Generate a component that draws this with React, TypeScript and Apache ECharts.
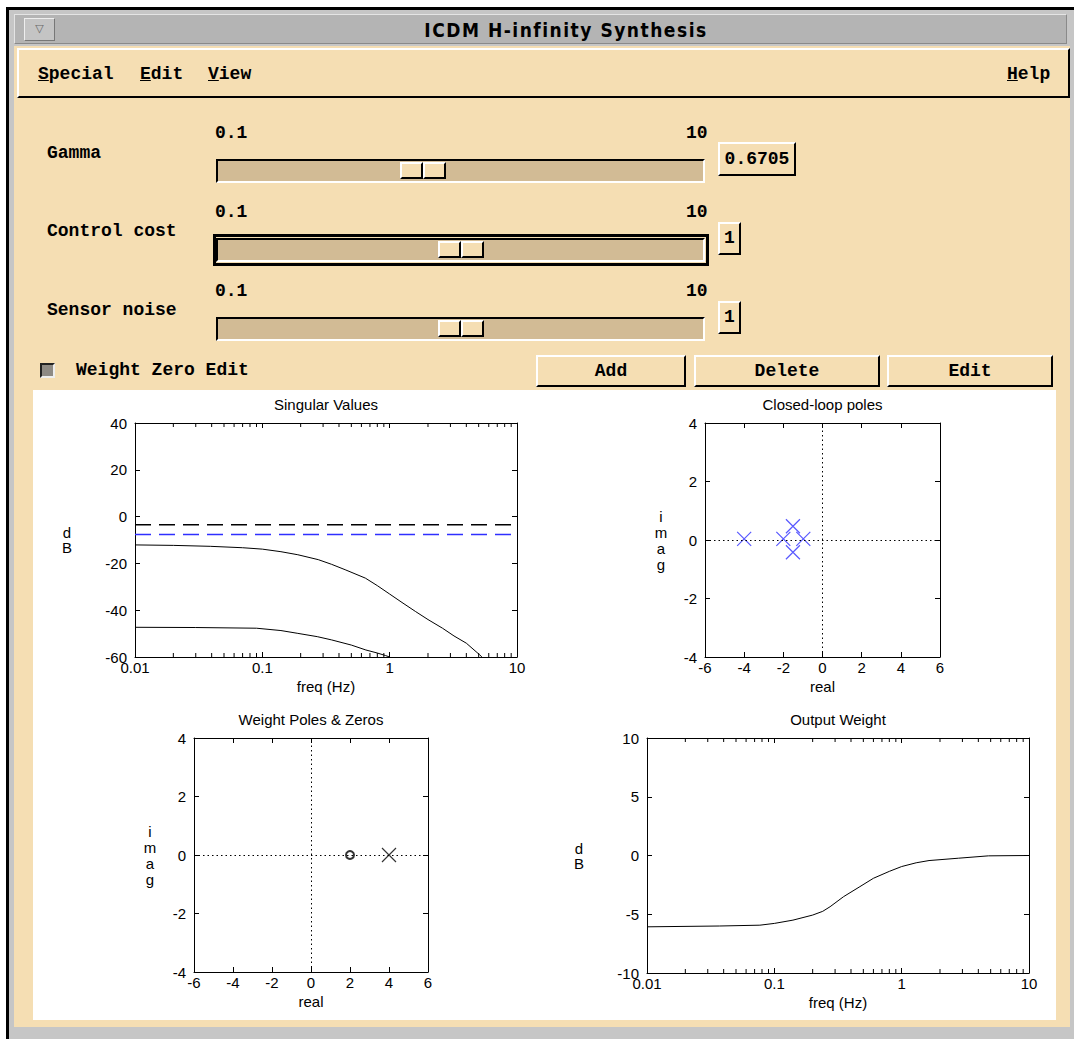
import React, { useEffect, useRef } from "react";
import * as echarts from "echarts";

// ---------- data ----------
const svFreq = [0.01, 0.02, 0.039, 0.07, 0.1, 0.14, 0.19, 0.275, 0.35, 0.447, 0.645, 0.8, 1.0, 1.25, 1.6, 2.0, 2.6, 3.2, 4.0, 5.1, 5.3];
const svUpper = [-12.1, -12.3, -12.7, -13.3, -13.9, -15.0, -16.3, -18.4, -20.4, -22.7, -26.3, -29.5, -33.1, -36.7, -40.6, -44.0, -47.7, -51.0, -54.1, -59.1, -60];
const svLowerFreq = [0.01, 0.03, 0.09, 0.14, 0.19, 0.27, 0.35, 0.5, 0.65, 0.8, 0.93, 1.0];
const svLower = [-47.3, -47.4, -47.7, -48.7, -49.9, -51.3, -52.7, -54.9, -57.0, -58.3, -59.4, -60];
const gammaDb = -3.5;
const blueDb = -7.6;

const polesRe = [-4.0, -2.0, -1.51, -1.51, -0.98];
const polesIm = [0.04, 0.04, 0.47, -0.42, 0.04];

const wZerosRe = [2];
const wZerosIm = [0];
const wPolesRe = [4];
const wPolesIm = [0];

const owFreq = [0.01, 0.037, 0.077, 0.1, 0.14, 0.2, 0.24, 0.274, 0.35, 0.47, 0.6, 0.8, 1.0, 1.3, 1.64, 2.8, 4.8, 10];
const owDb = [-6.07, -6.0, -5.93, -5.78, -5.5, -5.07, -4.75, -4.36, -3.5, -2.65, -1.94, -1.35, -0.94, -0.62, -0.43, -0.23, -0.03, 0];

const logMinor = [0.02, 0.03, 0.04, 0.05, 0.06, 0.07, 0.08, 0.09, 0.2, 0.3, 0.4, 0.5, 0.6, 0.7, 0.8, 0.9, 2, 3, 4, 5, 6, 7, 8, 9];

const sliderLabels = ["Gamma", "Control cost", "Sensor noise"];
const sliderValues = ["0.6705", "1", "1"];
const sliderMin = "0.1";
const sliderMax = "10";
const menuItems = ["Special", "Edit", "View"];
const buttonLabels = ["Add", "Delete", "Edit"];

// ---------- styles ----------
const WHEAT = "#f5deb3";
const TROUGH = "#d2bb95";
const BLUE = "#2f2fff";
const MONO = "'Liberation Mono', 'DejaVu Sans Mono', monospace";
const SANS = "'Liberation Sans', Arial, sans-serif";
const X_PATH = "path://M0 0L10 10M10 0L0 10";

const abs = (left: number, top: number, width: number, height: number, extra: any = {}) => ({
  position: "absolute" as const,
  left,
  top,
  width,
  height,
  boxSizing: "border-box" as const,
  ...extra,
});

const raised = {
  borderTop: "2px solid #fff",
  borderLeft: "2px solid #fff",
  borderBottom: "2px solid #000",
  borderRight: "2px solid #000",
  background: WHEAT,
};

const monoText = {
  fontFamily: MONO,
  fontWeight: "bold" as const,
  fontSize: 18,
  color: "#000",
  whiteSpace: "pre" as const,
};

function Label({ x, cy, text, extra = {} }: any) {
  return <div style={{ ...abs(x, cy - 11, 300, 22), ...monoText, lineHeight: "22px", ...extra }}>{text}</div>;
}

function Slider({ top, thumb, focused }: any) {
  return (
    <>
      {focused && <div style={abs(213, top - 4, 496, 32, { border: "3px solid #000" })} />}
      <div
        style={abs(216, top, 489, 24, {
          background: TROUGH,
          borderTop: "2px solid #000",
          borderLeft: "2px solid #000",
          borderBottom: "2px solid #fff",
          borderRight: "2px solid #fff",
        })}
      />
      <div style={abs(thumb, top + 3, 23, 17, raised)} />
      <div style={abs(thumb + 23, top + 3, 23, 17, raised)} />
    </>
  );
}

function axisSet(gi: number, xLog: boolean, xMin: number, xMax: number, xInt: number, yMin: number, yMax: number, yInt: number, title: string, xName: string, yName: string, yLH: number, yGap: number) {
  const line = { show: true, onZero: false, lineStyle: { color: "#000", width: 1 } };
  const tick = { show: true, inside: true, length: 5, lineStyle: { color: "#000", width: 1 } };
  const lbl = { color: "#000", fontSize: 15, fontFamily: SANS };
  const fmt = (v: number) => String(parseFloat(Number(v).toPrecision(3)));
  const xCommon: any = xLog ? { type: "log", logBase: 10, min: xMin, max: xMax } : { type: "value", min: xMin, max: xMax, interval: xInt };
  const yCommon: any = { type: "value", min: yMin, max: yMax, interval: yInt };
  const xs = [
    {
      ...xCommon,
      gridIndex: gi,
      position: "bottom",
      axisLine: line,
      axisTick: tick,
      splitLine: { show: false },
      axisLabel: { ...lbl, margin: 3, formatter: fmt },
      name: xName,
      nameLocation: "middle",
      nameGap: 22,
      nameTextStyle: { ...lbl },
    },
    {
      ...xCommon,
      gridIndex: gi,
      position: "top",
      axisLine: line,
      axisTick: tick,
      splitLine: { show: false },
      axisLabel: { show: false },
      name: title,
      nameLocation: "middle",
      nameGap: 11,
      nameTextStyle: { ...lbl },
    },
  ];
  const ys = [
    {
      ...yCommon,
      gridIndex: gi,
      position: "left",
      axisLine: line,
      axisTick: tick,
      splitLine: { show: false },
      axisLabel: { ...lbl, margin: 8 },
      name: yName,
      nameLocation: "middle",
      nameRotate: 0,
      nameGap: yGap,
      nameTextStyle: { ...lbl, lineHeight: yLH, align: "center" },
    },
    {
      ...yCommon,
      gridIndex: gi,
      position: "right",
      axisLine: line,
      axisTick: tick,
      splitLine: { show: false },
      axisLabel: { show: false },
    },
  ];
  return { xs, ys };
}

function minorTicks(axisIdx: number, yMin: number, yMax: number) {
  return {
    type: "custom",
    xAxisIndex: axisIdx,
    yAxisIndex: axisIdx,
    silent: true,
    data: logMinor.map((f) => [f, yMin, yMax]),
    renderItem: (_p: any, api: any) => {
      const f = api.value(0);
      const b = api.coord([f, api.value(1)]);
      const t = api.coord([f, api.value(2)]);
      return {
        type: "group",
        children: [
          { type: "line", shape: { x1: b[0], y1: b[1], x2: b[0], y2: b[1] - 4 }, style: { stroke: "#000", lineWidth: 1 } },
          { type: "line", shape: { x1: t[0], y1: t[1], x2: t[0], y2: t[1] + 4 }, style: { stroke: "#000", lineWidth: 1 } },
        ],
      };
    },
  };
}

const zeroLines = {
  silent: true,
  symbol: ["none", "none"],
  label: { show: false },
  lineStyle: { color: "#000", width: 1, type: [1.5, 3] },
  data: [{ xAxis: 0 }, { yAxis: 0 }],
};

function buildOption() {
  const a0 = axisSet(0, true, 0.01, 10, 0, -60, 40, 20, "Singular Values", "freq (Hz)", "d\nB", 15, 68);
  const a1 = axisSet(1, false, -6, 6, 2, -4, 4, 2, "Closed-loop poles", "real", "i\nm\na\ng", 16, 44);
  const a2 = axisSet(2, false, -6, 6, 2, -4, 4, 2, "Weight Poles & Zeros", "real", "i\nm\na\ng", 16, 44);
  const a3 = axisSet(3, true, 0.01, 10, 0, -10, 10, 5, "Output Weight", "freq (Hz)", "d\nB", 15, 68);
  return {
    animation: false,
    backgroundColor: "#fff",
    textStyle: { fontFamily: SANS },
    grid: [
      { left: 102, top: 33, width: 382, height: 234 },
      { left: 672, top: 33, width: 235, height: 234 },
      { left: 161, top: 348, width: 234, height: 234 },
      { left: 614, top: 348, width: 382, height: 235 },
    ],
    xAxis: [...a0.xs, ...a1.xs, ...a2.xs, ...a3.xs],
    yAxis: [...a0.ys, ...a1.ys, ...a2.ys, ...a3.ys],
    series: [
      {
        type: "line",
        xAxisIndex: 0,
        yAxisIndex: 0,
        data: svFreq.map((f, i) => [f, svUpper[i]]),
        symbol: "none",
        silent: true,
        lineStyle: { color: "#000", width: 1 },
      },
      {
        type: "line",
        xAxisIndex: 0,
        yAxisIndex: 0,
        data: svLowerFreq.map((f, i) => [f, svLower[i]]),
        symbol: "none",
        silent: true,
        lineStyle: { color: "#000", width: 1 },
      },
      {
        type: "line",
        xAxisIndex: 0,
        yAxisIndex: 0,
        data: [[0.01, gammaDb], [10, gammaDb]],
        symbol: "none",
        silent: true,
        lineStyle: { color: "#000", width: 1.5, type: [16, 8] },
      },
      {
        type: "line",
        xAxisIndex: 0,
        yAxisIndex: 0,
        data: [[0.01, blueDb], [10, blueDb]],
        symbol: "none",
        silent: true,
        lineStyle: { color: BLUE, width: 1.5, type: [16, 8] },
      },
      minorTicks(0, -60, 40),
      {
        type: "scatter",
        xAxisIndex: 2,
        yAxisIndex: 2,
        data: polesRe.map((r, i) => [r, polesIm[i]]),
        symbol: X_PATH,
        symbolSize: 14,
        silent: true,
        itemStyle: { color: "none", borderColor: BLUE, borderWidth: 1.2 },
        markLine: zeroLines,
      },
      {
        type: "scatter",
        xAxisIndex: 4,
        yAxisIndex: 4,
        data: wZerosRe.map((r, i) => [r, wZerosIm[i]]),
        symbol: "emptyCircle",
        symbolSize: 8,
        silent: true,
        itemStyle: { color: "#000", borderColor: "#000", borderWidth: 1.2 },
        markLine: zeroLines,
      },
      {
        type: "scatter",
        xAxisIndex: 4,
        yAxisIndex: 4,
        data: wPolesRe.map((r, i) => [r, wPolesIm[i]]),
        symbol: X_PATH,
        symbolSize: 14,
        silent: true,
        itemStyle: { color: "none", borderColor: "#000", borderWidth: 1.2 },
      },
      {
        type: "line",
        xAxisIndex: 6,
        yAxisIndex: 6,
        data: owFreq.map((f, i) => [f, owDb[i]]),
        symbol: "none",
        silent: true,
        lineStyle: { color: "#000", width: 1 },
      },
      minorTicks(6, -10, 10),
    ],
  };
}

function Charts() {
  const ref = useRef<HTMLDivElement>(null);
  useEffect(() => {
    if (!ref.current) return;
    const chart = echarts.init(ref.current, undefined, { renderer: "svg" });
    chart.setOption(buildOption() as any);
    return () => chart.dispose();
  }, []);
  return <div ref={ref} style={abs(33, 390, 1023, 630, { background: "#fff" })} />;
}

export default function App() {
  useEffect(() => {
    document.body.style.margin = "0";
    document.body.style.overflow = "hidden";
  }, []);
  const sliderTops = [159, 238, 317];
  const labelCy = [153, 231, 310];
  const rangeCy = [133, 212, 291];
  const thumbs = [400, 438, 438];
  const boxes = [
    [718, 142, 78, 34],
    [718, 222, 23, 33],
    [718, 301, 23, 33],
  ];
  const menuX = [38, 140, 208];
  const btns = [
    [536, 355, 150, 32],
    [694, 355, 186, 32],
    [887, 355, 166, 32],
  ];
  return (
    <div style={abs(0, 0, 1074, 1039, { background: "#fff", overflow: "hidden" })}>
      {/* window frame */}
      <div style={abs(6, 7, 1068, 1032, { background: "#c6c6c6", borderTop: "3px solid #000", borderLeft: "3px solid #000" })} />
      <div style={abs(14, 14, 1053, 30, { background: "#b4b4b4", borderTop: "1px solid #e4e4e4", borderLeft: "1px solid #e4e4e4", borderBottom: "1px solid #8a8a8a", borderRight: "1px solid #8a8a8a" })} />
      <div style={abs(24, 18, 31, 23, { background: "#c4c4c4", borderTop: "1px solid #eee", borderLeft: "1px solid #eee", borderBottom: "1px solid #777", borderRight: "1px solid #777", color: "#666", fontSize: 11, fontFamily: "'DejaVu Sans', sans-serif", lineHeight: "20px", textAlign: "center" })}>▽</div>
      <div
        style={abs(60, 16, 1012, 28, {
          fontFamily: "'DejaVu Sans Condensed', 'Liberation Sans Narrow', 'DejaVu Sans', sans-serif",
          fontStretch: "condensed",
          fontWeight: "bold",
          fontSize: 19,
          letterSpacing: "1.5px",
          lineHeight: "28px",
          textAlign: "center",
          color: "#000",
          whiteSpace: "pre",
        })}
      >
        ICDM H-infinity Synthesis
      </div>
      {/* main wheat area */}
      <div style={abs(14, 46, 1056, 981, { background: WHEAT })} />
      {/* menu bar */}
      <div style={abs(17, 48, 1053, 50, raised)} />
      {menuItems.map((m, i) => (
        <Label key={m} x={menuX[i]} cy={74} text={<><span style={{ textDecoration: "underline" }}>{m[0]}</span>{m.slice(1)}</>} />
      ))}
      <Label x={1007} cy={74} text={<><span style={{ textDecoration: "underline" }}>H</span>elp</>} />
      {/* sliders */}
      {sliderLabels.map((s, i) => (
        <React.Fragment key={s}>
          <Label x={47} cy={labelCy[i]} text={s} />
          <Label x={215} cy={rangeCy[i]} text={sliderMin} />
          <Label x={686} cy={rangeCy[i]} text={sliderMax} />
          <Slider top={sliderTops[i]} thumb={thumbs[i]} focused={i === 1} />
          <div style={abs(boxes[i][0], boxes[i][1], boxes[i][2], boxes[i][3], { ...raised, ...monoText, lineHeight: `${boxes[i][3] - 4}px`, textAlign: "center" })}>
            {sliderValues[i]}
          </div>
        </React.Fragment>
      ))}
      {/* toggle */}
      <div style={abs(40, 363, 15, 15, { background: "#8e8a84", borderTop: "2px solid #222", borderLeft: "2px solid #222", borderBottom: "2px solid #eee", borderRight: "2px solid #eee" })} />
      <Label x={76} cy={370} text="Weight Zero Edit" />
      {buttonLabels.map((b, i) => (
        <div key={b} style={abs(btns[i][0], btns[i][1], btns[i][2], btns[i][3], { ...raised, ...monoText, lineHeight: `${btns[i][3] - 4}px`, textAlign: "center" })}>
          {b}
        </div>
      ))}
      <Charts />
    </div>
  );
}
